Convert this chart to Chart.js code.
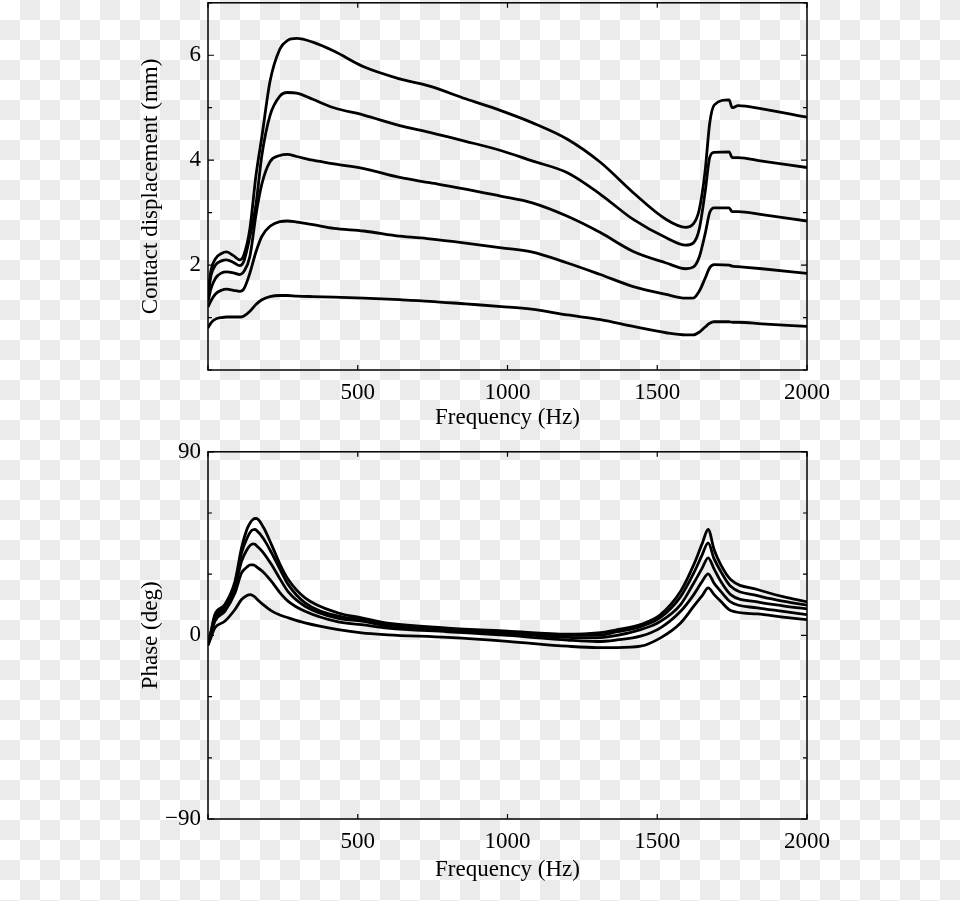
<!DOCTYPE html>
<html>
<head>
<meta charset="utf-8">
<script src="https://cdn.jsdelivr.net/npm/chart.js@4"></script>
<style>
  html, body { margin: 0; padding: 0; }
  body {
    width: 960px; height: 901px; position: relative; overflow: hidden;
    background-color: #fff;
    background-image: conic-gradient(#ebebeb 25%, #fff 0 50%, #ebebeb 0 75%, #fff 0);
    background-size: 40px 40px;
  }
  canvas { position: absolute; left: 0; top: 0; }
</style>
</head>
<body>
<canvas id="amp" width="960" height="440"></canvas>
<canvas id="phase" width="960" height="461"></canvas>
<script>
// top panel: contact displacement (mm) vs frequency (Hz)
const ampFreq = [0, 10, 25, 45, 62, 85, 106, 120, 140, 160, 180, 207, 240, 265, 296, 350, 420, 520,
    640, 740, 860, 980, 1080, 1200, 1310, 1420, 1530, 1595, 1620, 1640, 1660, 1675, 1690, 1740, 1750, 1770, 1850, 2000];
const amp1 = [1.45, 1.90, 2.12, 2.22, 2.25, 2.18, 2.10, 2.20, 2.70, 3.70, 4.45, 5.50, 6.12, 6.28, 6.32, 6.25, 6.08, 5.78,
    5.55, 5.41, 5.17, 4.94, 4.72, 4.40, 3.96, 3.38, 2.87, 2.72, 2.78, 3.05, 3.80, 4.70, 5.05, 5.15, 5.00, 5.04, 4.98, 4.82];
const amp2 = [1.40, 1.80, 2.00, 2.08, 2.10, 2.05, 1.99, 2.08, 2.55, 3.15, 4.10, 4.85, 5.22, 5.29, 5.28, 5.16, 5.00, 4.86,
    4.66, 4.53, 4.36, 4.18, 3.99, 3.76, 3.35, 2.87, 2.52, 2.38, 2.42, 2.68, 3.40, 4.05, 4.15, 4.16, 4.05, 4.05, 3.98, 3.86];
const amp3 = [1.30, 1.55, 1.75, 1.85, 1.87, 1.85, 1.82, 1.88, 2.17, 2.95, 3.55, 3.97, 4.09, 4.11, 4.07, 4.00, 3.93, 3.84,
    3.67, 3.57, 3.45, 3.31, 3.19, 2.93, 2.62, 2.26, 2.04, 1.93, 1.96, 2.15, 2.60, 3.00, 3.09, 3.09, 3.02, 3.02, 2.96, 2.84];
const amp4 = [1.20, 1.32, 1.45, 1.52, 1.54, 1.52, 1.50, 1.55, 1.85, 2.25, 2.55, 2.74, 2.83, 2.84, 2.82, 2.77, 2.70, 2.65,
    2.55, 2.50, 2.42, 2.33, 2.25, 2.04, 1.82, 1.59, 1.44, 1.37, 1.37, 1.50, 1.75, 1.95, 2.01, 2.00, 1.98, 1.97, 1.93, 1.84];
const amp5 = [0.80, 0.90, 0.97, 1.00, 1.01, 1.01, 1.01, 1.03, 1.12, 1.25, 1.34, 1.40, 1.42, 1.42, 1.41, 1.40, 1.39, 1.37,
    1.34, 1.31, 1.26, 1.21, 1.16, 1.05, 0.96, 0.83, 0.71, 0.67, 0.67, 0.72, 0.82, 0.89, 0.92, 0.92, 0.91, 0.91, 0.88, 0.83];

// bottom panel: phase (deg) vs frequency (Hz)
const phaseFreq = [0, 10, 23, 56, 90, 112, 130, 142, 150, 157, 162, 185, 212, 240, 268, 324, 435, 513,
    600, 800, 1000, 1200, 1300, 1366, 1444, 1511, 1578, 1622, 1650, 1670, 1690, 1712, 1745, 1834, 1920, 2000];
const ph1 = [-4, 2, 10.2, 15.1, 26.5, 42.9, 52, 55.5, 56.8, 57.3, 57.3, 53, 44.5, 35, 27.4, 18.4, 11.0, 8.6,
    6.0, 3.6, 2.1, 0.6, 1.2, 2.8, 5.3, 10.2, 21.6, 34.7, 45, 51.9, 42, 34.7, 27.4, 22.5, 19, 16.4];
const ph2 = [-4, 1.5, 9.5, 14, 25, 40.4, 47.5, 50.8, 51.8, 51.9, 51.5, 47.5, 40.5, 32.5, 24.9, 16.0, 9.4, 7.8,
    5.3, 3.2, 1.6, 0.0, 0.0, 1.8, 4.3, 8.8, 19, 30.6, 39.5, 45.4, 37.5, 31.4, 24.1, 19.5, 16.8, 14.8];
const ph3 = [-4, 1, 8.5, 13, 23.5, 36.3, 42, 44.3, 44.9, 44.7, 44, 40.5, 34.7, 27.8, 21.3, 14.3, 8.3, 7.0,
    4.6, 2.6, 0.9, -1.0, -1.2, 0.0, 2.8, 6.9, 15.1, 25.7, 33, 38.0, 32.5, 26.5, 20.0, 16.4, 14.5, 13.0];
const ph4 = [-4.5, 0.5, 7, 11.8, 20.8, 30.6, 33.5, 34.6, 34.6, 34.2, 33.6, 31, 26.5, 21.0, 16.7, 11.8, 6.6, 5.3,
    3.6, 1.8, 0.0, -2.3, -3.0, -2.2, -0.4, 3.7, 11.8, 20.0, 26.5, 30.2, 25.5, 21.6, 16.4, 13.5, 11.8, 10.2];
const ph5 = [-5, -1, 3.7, 6.9, 12.7, 17.6, 19.6, 20.0, 19.5, 18.8, 18.0, 15, 12.0, 10.0, 8.6, 6.1, 2.8, 1.2,
    0.3, -1.0, -2.9, -5.3, -6.0, -6.0, -5.3, -1.2, 6.1, 14.3, 19.5, 23.3, 20, 16.7, 12.2, 10.5, 9, 7.7];

Chart.defaults.color = '#000';
Chart.defaults.font.family = '"Liberation Serif", "DejaVu Serif", serif';
Chart.defaults.font.size = 23;

// box around the plot plus inward tick marks
const frame = {
    id: 'frame',
    afterDraw(chart) {
        const {ctx, chartArea: a, scales: {x, y}} = chart;
        ctx.save();
        ctx.strokeStyle = '#000';
        ctx.lineWidth = 1.5;
        ctx.strokeRect(a.left, a.top, a.right - a.left, a.bottom - a.top);
        ctx.lineWidth = 1.2;
        ctx.beginPath();
        x.ticks.forEach(t => {
            const px = x.getPixelForValue(t.value);
            ctx.moveTo(px, a.bottom); ctx.lineTo(px, a.bottom - 5);
            ctx.moveTo(px, a.top); ctx.lineTo(px, a.top + 5);
        });
        y.ticks.forEach(t => {
            const py = y.getPixelForValue(t.value);
            const len = t.label === '' ? 4 : 6;
            ctx.moveTo(a.left, py); ctx.lineTo(a.left + len, py);
            ctx.moveTo(a.right, py); ctx.lineTo(a.right - len, py);
        });
        ctx.stroke();
        ctx.restore();
    }
};

function toPoints(xs, ys) {
    return ys.map((v, i) => ({x: xs[i], y: v}));
}

// plotTop / plotBottom: where the box should sit on the page
function makeChart(id, xs, series, yOpts, plotTop, plotBottom, xHeight, xTitlePad) {
    const canvas = document.getElementById(id);
    const chart = new Chart(canvas, {
        type: 'line',
        data: {
            datasets: series.map(s => ({
                data: toPoints(xs, s),
                borderColor: '#000',
                borderWidth: 2.8,
                pointRadius: 0,
                cubicInterpolationMode: 'monotone',
                fill: false
            }))
        },
        options: {
            responsive: false,
            maintainAspectRatio: false,
            animation: false,
            devicePixelRatio: 1,
            layout: {padding: {left: 130, right: 153, top: 0, bottom: 0}},
            plugins: {legend: {display: false}, tooltip: {enabled: false}},
            scales: {
                x: {
                    type: 'linear',
                    min: 0, max: 2000,
                    grid: {display: false, drawTicks: false},
                    border: {display: false},
                    ticks: {
                        stepSize: 500, autoSkip: false, maxRotation: 0, padding: 9,
                        callback: v => v > 0 ? String(v) : ''
                    },
                    title: {display: true, text: 'Frequency (Hz)', padding: {top: 0, bottom: xTitlePad}},
                    afterFit: s => { s.height = xHeight; }
                },
                y: {
                    min: yOpts.min, max: yOpts.max,
                    grid: {display: false, drawTicks: false},
                    border: {display: false},
                    ticks: {
                        stepSize: yOpts.step, autoSkip: false, padding: 7,
                        callback: yOpts.label
                    },
                    title: {display: true, text: yOpts.title, padding: {top: 7, bottom: 0}},
                    afterFit: s => { s.width = 78; }
                }
            }
        },
        plugins: [frame]
    });
    // shift the canvas so the plot box lands where it should
    const off = plotTop - chart.chartArea.top;
    canvas.style.top = off + 'px';
    chart.resize(960, Math.round(plotBottom - off + xHeight));
    return chart;
}

makeChart('amp', ampFreq, [amp1, amp2, amp3, amp4, amp5], {
    min: 0, max: 7, step: 1,
    title: 'Contact displacement (mm)',
    label: v => (v > 0 && v % 2 === 0) ? String(v) : ''
}, 3, 370, 70, 8);

makeChart('phase', phaseFreq, [ph1, ph2, ph3, ph4, ph5], {
    min: -90, max: 90, step: 30,
    title: 'Phase (deg)',
    label: v => v % 90 === 0 ? String(v).replace('-', '\u2212') : ''
}, 452, 819, 82, 17);
</script>
</body>
</html>
